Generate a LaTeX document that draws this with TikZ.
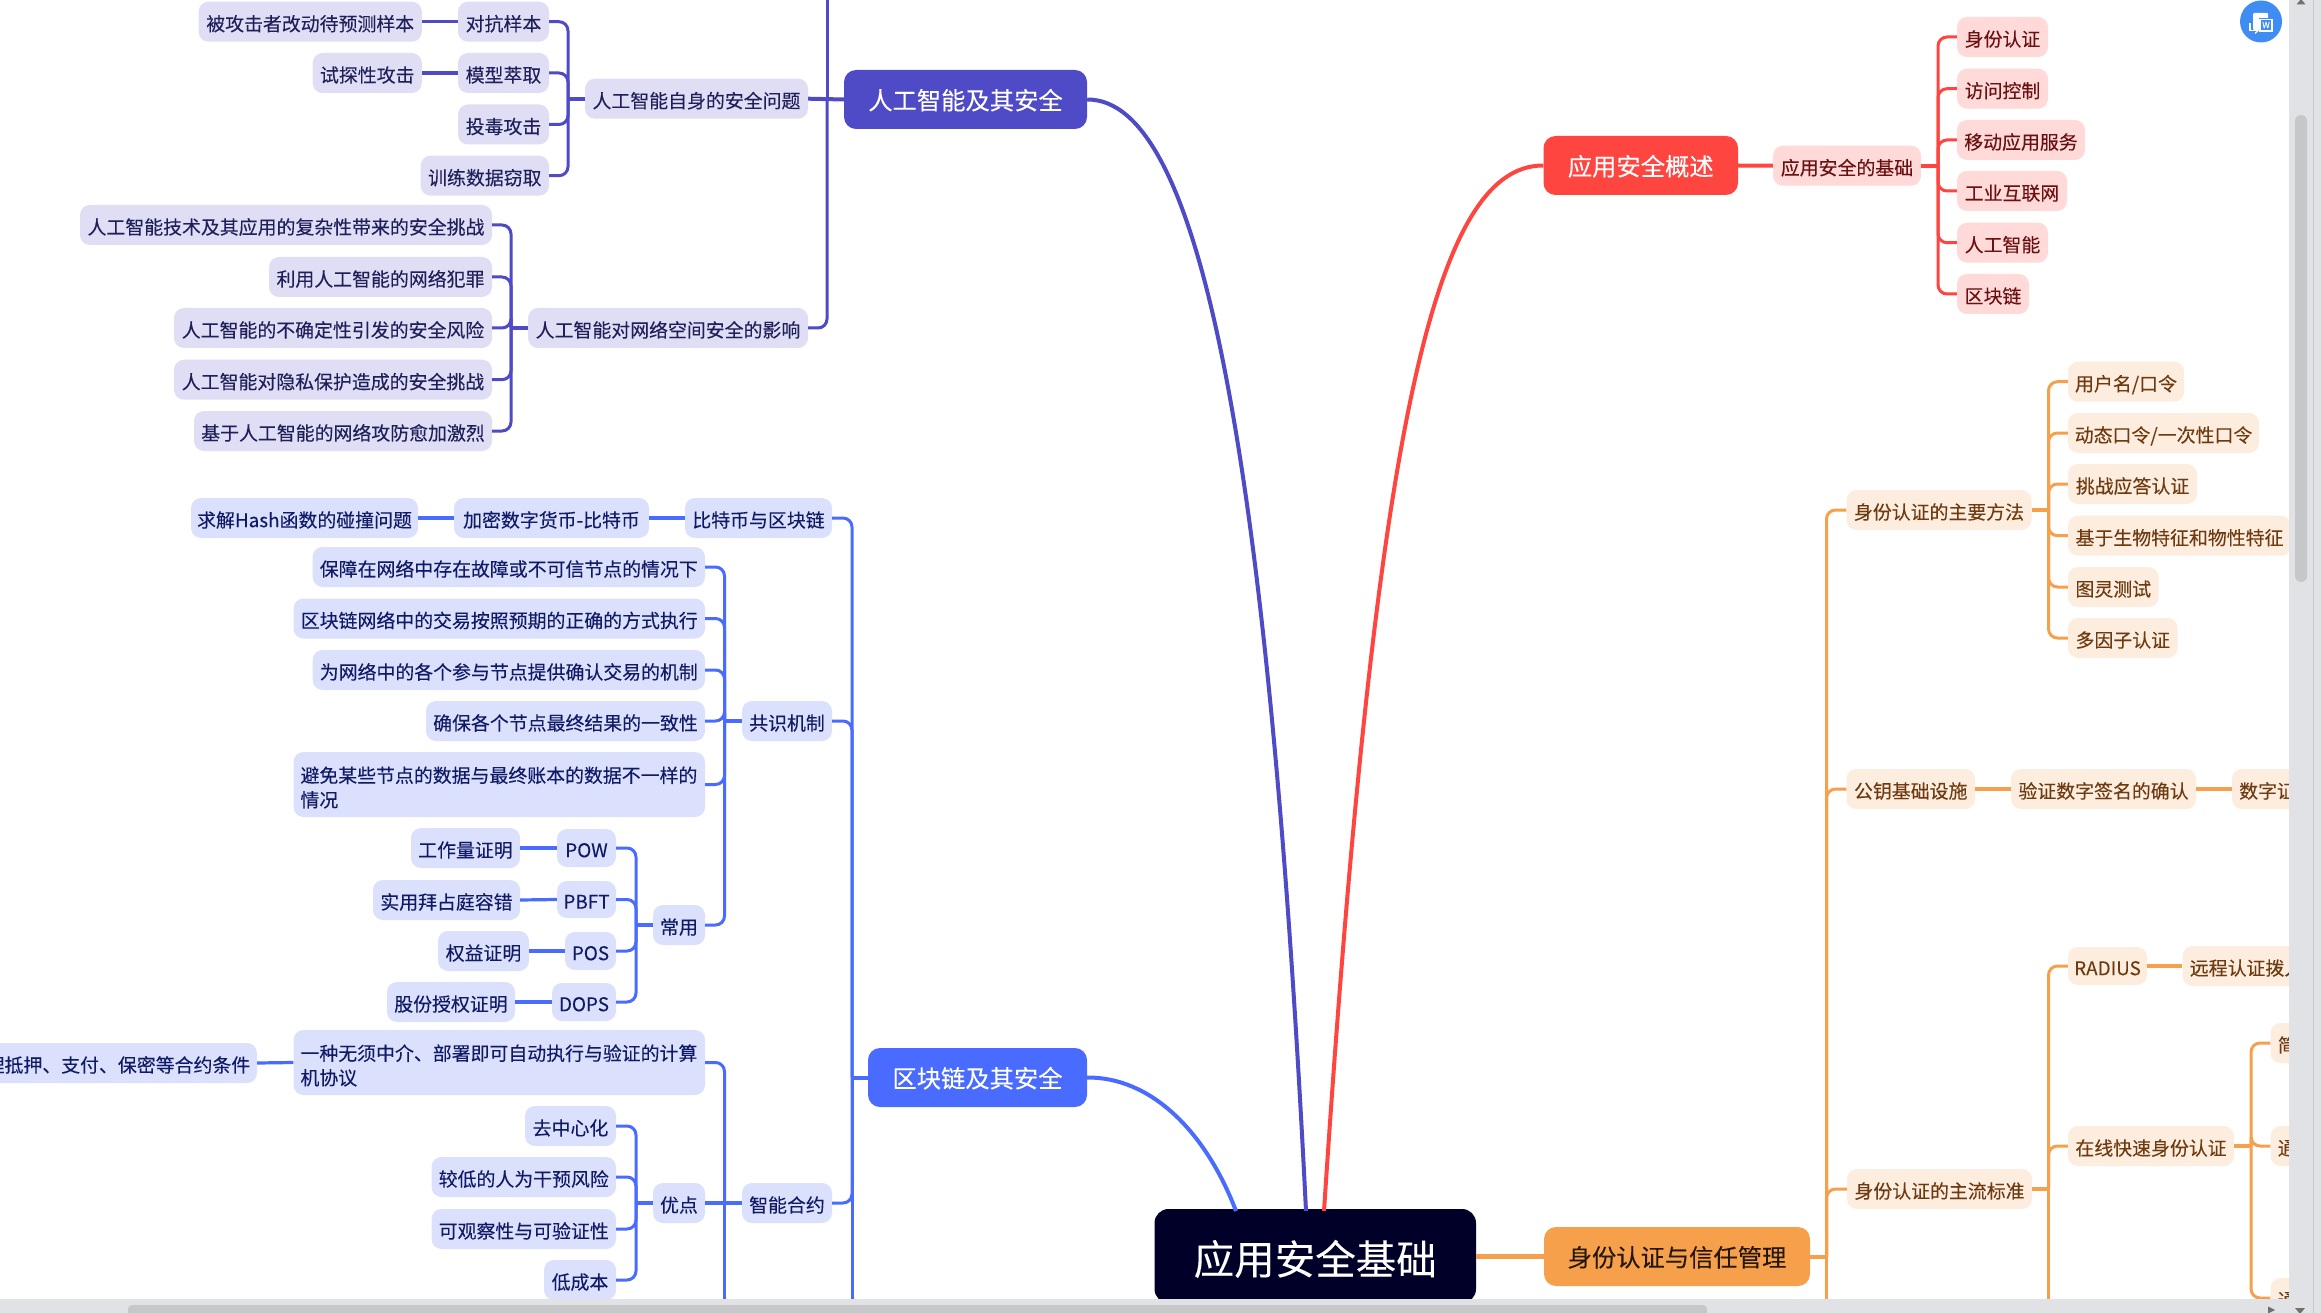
\documentclass[tikz,border=0pt]{standalone}
\usepackage{fontspec}
\setmainfont{Noto Sans CJK SC}[FakeBold=0.12]
\definecolor{cP}{HTML}{4F4BC7}
\definecolor{cB}{HTML}{4A6BFF}
\definecolor{cR}{HTML}{FF4540}
\definecolor{cO}{HTML}{F7A04C}
\definecolor{fP}{HTML}{DFDEF4}
\definecolor{fB}{HTML}{DBE1FD}
\definecolor{fR}{HTML}{FFDAD9}
\definecolor{fO}{HTML}{FDEDDF}
\definecolor{tP}{HTML}{1F1F5A}
\definecolor{tB}{HTML}{101A66}
\definecolor{tR}{HTML}{6B1010}
\definecolor{tO}{HTML}{6E3A10}
\definecolor{cRoot}{HTML}{000028}
\definecolor{sbBg}{HTML}{E1E2E6}
\definecolor{sbLine}{HTML}{C8C9CC}
\definecolor{sbThumb}{HTML}{C6C7C9}
\definecolor{sbArrow}{HTML}{707070}
\definecolor{icoBlue}{HTML}{3F8CF2}
\tikzset{
  base/.style={rectangle,rounded corners=10pt,inner sep=0pt,font=\fontsize{18.9}{24.5}\selectfont},
  tx/.style={text height=20pt,text depth=1.6pt},
  np/.style={base,tx,fill=fP,text=tP},
  nb/.style={base,tx,fill=fB,text=tB},
  nr/.style={base,tx,fill=fR,text=tR},
  no/.style={base,tx,fill=fO,text=tO},
  nb2/.style={base,fill=fB,text=tB,align=left},
  mainbox/.style={rectangle,rounded corners=12pt,inner sep=0pt,font=\fontsize{24.3}{28}\selectfont,text height=22.5pt,text depth=2.4pt},
  rootbox/.style={rectangle,rounded corners=14pt,inner sep=0pt,font=\fontsize{40.5}{46}\selectfont,text height=40pt,text depth=3.2pt,fill=cRoot,text=white},
  conn/.style={line width=3pt,rounded corners=9pt},
  stub/.style={line width=4pt},
  link/.style={line width=3.2pt},
  curve/.style={line width=4pt},
  rootlink/.style={line width=4.5pt},
}
\newcommand{\bx}[7]{\node[#6,minimum width={#4-#2},minimum height={#5-#3}] (#1) at ({(#2+#4)/2},{(#3+#5)/2}) {#7};}
\newcommand{\bxw}[7]{\node[#6,text width={#4-#2-14},minimum width={#4-#2},minimum height={#5-#3}] (#1) at ({(#2+#4)/2},{(#3+#5)/2}) {\rule{0pt}{22pt}#7};}
\begin{document}
\begin{tikzpicture}[x=1pt,y=-1pt]
\useasboundingbox (0,0) rectangle (2321,1313);
\clip (0,0) rectangle (2321,1313);
\fill[white] (0,0) rectangle (2321,1313);

% ---------- root and main topics
\bx{root}{1154.5}{1209}{1476}{1303}{rootbox}{应用安全基础}
\bx{mP}{844}{70}{1087}{129}{mainbox,fill=cP,text=white}{人工智能及其安全}
\bx{mB}{868}{1048}{1087}{1107}{mainbox,fill=cB,text=white}{区块链及其安全}
\bx{mR}{1543.5}{136}{1738}{195}{mainbox,fill=cR,text=white}{应用安全概述}
\bx{mO}{1544}{1227}{1810}{1286}{mainbox,fill=cO,text=black!85!cO}{身份认证与信任管理}

\coordinate (rtP) at (1306,1211);
\coordinate (rtB) at (1236,1211);
\coordinate (rtR) at (1324,1211);
\draw[curve,cP] (mP.east) .. controls (1200,99) and (1268,450) .. (rtP);
\draw[curve,cB] (mB.east) .. controls (1150,1077) and (1205,1130) .. (rtB);
\draw[curve,cR] (mR.west) .. controls (1430,165) and (1374,450) .. (rtR);
\draw[rootlink,cO] (root.east |- mO.west) -- (mO.west);

% ---------- purple branch
\bx{pA}{585}{78.7}{808}{118.7}{np}{人工智能自身的安全问题}
\bx{pA1}{458}{1.7}{549}{41.7}{np}{对抗样本}
\bx{pA2}{458}{53}{549}{93}{np}{模型萃取}
\bx{pA3}{458}{104.5}{549}{144.5}{np}{投毒攻击}
\bx{pA4}{420.7}{155.7}{549}{195.7}{np}{训练数据窃取}
\bx{pA1x}{198.6}{1.7}{421.8}{41.7}{np}{被攻击者改动待预测样本}
\bx{pA2x}{312.7}{53}{421.8}{93}{np}{试探性攻击}
\bx{pN}{528}{308}{808}{348}{np}{人工智能对网络空间安全的影响}
\bx{pN1}{80}{205}{492}{245}{np}{人工智能技术及其应用的复杂性带来的安全挑战}
\bx{pN2}{269}{257}{492}{297}{np}{利用人工智能的网络犯罪}
\bx{pN3}{174}{308}{492}{348}{np}{人工智能的不确定性引发的安全风险}
\bx{pN4}{174}{359.7}{492}{399.7}{np}{人工智能对隐私保护造成的安全挑战}
\bx{pN5}{194}{411}{492}{451}{np}{基于人工智能的网络攻防愈加激烈}

\coordinate (sPm) at (827,99.5);
\coordinate (sPtop) at (827,-20);
\coordinate (sPa) at (568,98.7);
\coordinate (sPn) at (511,328);
\draw[conn,cP] (sPtop) -- (sPm);
\draw[conn,cP] (pN.east) -| (sPm);
\draw[stub,cP] (pA.east) -- (mP.west);
\foreach \c in {pA1,pA2,pA3,pA4} \draw[conn,cP] (\c.east) -| (sPa);
\draw[stub,cP] (sPa) -- (pA.west);
\foreach \c in {pN1,pN2,pN3,pN4,pN5} \draw[conn,cP] (\c.east) -| (sPn);
\draw[stub,cP] (sPn) -- (pN.west);
\draw[link,cP] (pA1x.east) -- (pA1.west);
\draw[link,cP] (pA2x.east) -- (pA2.west);

% ---------- blue branch
\bx{bT}{685}{498}{832}{538}{nb}{比特币与区块链}
\bx{bT1}{454}{498}{649}{538}{nb}{加密数字货币-比特币}
\bx{bT2}{191}{498}{418}{538}{nb}{求解Hash函数的碰撞问题}
\bx{bC}{742}{701}{832}{741}{nb}{共识机制}
\bx{bC1}{312.6}{547}{705}{587}{nb}{保障在网络中存在故障或不可信节点的情况下}
\bx{bC2}{293.5}{598.5}{705}{638.5}{nb}{区块链网络中的交易按照预期的正确的方式执行}
\bx{bC3}{312.6}{650}{705}{690}{nb}{为网络中的各个参与节点提供确认交易的机制}
\bx{bC4}{426}{701}{705}{741}{nb}{确保各个节点最终结果的一致性}
\bxw{bC5}{293.5}{752}{705}{817}{nb2}{避免某些节点的数据与最终账本的数据不一样的\\情况}
\bx{bU}{653}{905}{705}{945}{nb}{常用}
\bx{bU1}{557}{829}{616}{867}{nb}{POW}
\bx{bU2}{557}{881}{616}{918}{nb}{PBFT}
\bx{bU3}{565}{932}{616}{970}{nb}{POS}
\bx{bU4}{552}{983}{616}{1021}{nb}{DOPS}
\bx{bU1x}{411}{828}{520}{868}{nb}{工作量证明}
\bx{bU2x}{373}{880}{520}{920}{nb}{实用拜占庭容错}
\bx{bU3x}{438}{931}{529}{971}{nb}{权益证明}
\bx{bU4x}{387}{982}{515}{1022}{nb}{股份授权证明}
\bx{bS}{742}{1183}{832}{1223}{nb}{智能合约}
\bxw{bS1}{293.5}{1030}{705}{1095}{nb2}{一种无须中介、部署即可自动执行与验证的计算\\机协议}
\bx{bS1x}{-40}{1043}{257}{1083}{nb}{管理抵押、支付、保密等合约条件}
\bx{bV}{653}{1183}{705}{1223}{nb}{优点}
\bx{bV1}{525}{1106}{616}{1146}{nb}{去中心化}
\bx{bV2}{431.5}{1157}{616}{1197}{nb}{较低的人为干预风险}
\bx{bV3}{431.5}{1209}{616}{1249}{nb}{可观察性与可验证性}
\bx{bV4}{544}{1260}{616}{1300}{nb}{低成本}

\coordinate (sBm) at (852,1077.5);
\coordinate (sBbot) at (852,1330);
\coordinate (sBc) at (724.5,721);
\coordinate (sBu) at (636,925);
\coordinate (sBs) at (724.5,1203);
\coordinate (sBsbot) at (724.5,1330);
\coordinate (sBv) at (636,1203);
\draw[conn,cB] (sBbot) -- (sBm);
\foreach \c in {bT,bC,bS} \draw[conn,cB] (\c.east) -| (sBm);
\draw[stub,cB] (sBm) -- (mB.west);
\foreach \c in {bC1,bC2,bC3,bC4,bC5,bU} \draw[conn,cB] (\c.east) -| (sBc);
\draw[stub,cB] (sBc) -- (bC.west);
\foreach \c in {bU1,bU2,bU3,bU4} \draw[conn,cB] (\c.east) -| (sBu);
\draw[stub,cB] (sBu) -- (bU.west);
\draw[conn,cB] (sBsbot) -- (sBs);
\draw[conn,cB] (bS1.east) -| (sBs);
\draw[stub,cB] (bV.east) -- (bS.west);
\foreach \c in {bV1,bV2,bV3,bV4} \draw[conn,cB] (\c.east) -| (sBv);
\draw[stub,cB] (sBv) -- (bV.west);
\draw[link,cB] (bT1.east) -- (bT.west);
\draw[link,cB] (bT2.east) -- (bT1.west);
\draw[link,cB] (bU1x.east) -- (bU1.west);
\draw[link,cB] (bU2x.east) -- (bU2.west);
\draw[link,cB] (bU3x.east) -- (bU3.west);
\draw[link,cB] (bU4x.east) -- (bU4.west);
\draw[link,cB] (bS1x.east) -- (bS1.west);

% ---------- red branch
\bx{rA}{1773}{145.7}{1921}{185.7}{nr}{应用安全的基础}
\bx{rA1}{1957}{17}{2048}{57}{nr}{身份认证}
\bx{rA2}{1957}{68.7}{2048}{108.7}{nr}{访问控制}
\bx{rA3}{1957}{120}{2085}{160}{nr}{移动应用服务}
\bx{rA4}{1957}{171}{2067}{211}{nr}{工业互联网}
\bx{rA5}{1957}{222.7}{2048}{262.7}{nr}{人工智能}
\bx{rA6}{1957}{274}{2029}{314}{nr}{区块链}
\coordinate (sR) at (1938,165.7);
\foreach \c in {rA1,rA2,rA3,rA4,rA5,rA6} \draw[conn,cR] (\c.west) -| (sR);
\draw[stub,cR] (rA.east) -- (sR);
\draw[stub,cR] (mR.east) -- (rA.west);

% ---------- orange branch
\bx{oA}{1846.5}{490}{2031.5}{530}{no}{身份认证的主要方法}
\bx{oA1}{2068}{361.7}{2184}{401.7}{no}{用户名/口令}
\bx{oA2}{2068}{413}{2259}{453}{no}{动态口令/一次性口令}
\bx{oA3}{2068}{464}{2197}{504}{no}{挑战应答认证}
\bx{oA4}{2068}{515.7}{2291}{555.7}{no}{基于生物特征和物性特征}
\bx{oA5}{2068}{567}{2158.6}{607}{no}{图灵测试}
\bx{oA6}{2068}{618}{2177.6}{658}{no}{多因子认证}
\bx{oB}{1846.5}{769}{1975}{809}{no}{公钥基础设施}
\bx{oB1}{2011}{769}{2196}{809}{no}{验证数字签名的确认}
\bx{oB2}{2232}{769}{2322}{809}{no}{数字证书}
\bx{oC}{1847}{1169}{2032}{1209}{no}{身份认证的主流标准}
\bx{oC1}{2068}{947}{2147}{985}{no}{RADIUS}
\bx{oC1x}{2182.6}{946}{2386}{986}{no}{远程认证拨入用户服务}
\bx{oC2}{2068}{1126}{2234}{1166}{no}{在线快速身份认证}
\bx{oD1}{2270.6}{1023}{2304}{1063}{no}{简}
\bx{oD2}{2270.6}{1126}{2304}{1166}{no}{通}
\bx{oD3}{2270.6}{1278}{2304}{1318}{no}{通}

\coordinate (sOm) at (1826.5,1256.5);
\coordinate (sObot) at (1826.5,1330);
\coordinate (sOa) at (2048.5,510);
\coordinate (sOc) at (2048.5,1189);
\coordinate (sObotc) at (2048.5,1330);
\coordinate (sOd) at (2251,1146);
\draw[conn,cO] (sObot) -- (sOm);
\foreach \c in {oA,oB,oC} \draw[conn,cO] (\c.west) -| (sOm);
\draw[stub,cO] (mO.east) -- (sOm);
\foreach \c in {oA1,oA2,oA3,oA4,oA5,oA6} \draw[conn,cO] (\c.west) -| (sOa);
\draw[stub,cO] (oA.east) -- (sOa);
\draw[conn,cO] (sObotc) -- (sOc);
\foreach \c in {oC1,oC2} \draw[conn,cO] (\c.west) -| (sOc);
\draw[stub,cO] (oC.east) -- (sOc);
\foreach \c in {oD1,oD2,oD3} \draw[conn,cO] (\c.west) -| (sOd);
\draw[stub,cO] (oC2.east) -- (sOd);
\draw[link,cO] (oB.east) -- (oB1.west);
\draw[link,cO] (oB1.east) -- (oB2.west);
\draw[link,cO] (oC1.east) -- (oC1x.west);

% ---------- window scrollbars and floating icon
\fill[sbBg] (0,1299) rectangle (2321,1313);
\fill[sbBg] (2289,0) rectangle (2321,1313);
\draw[sbLine,line width=1pt] (2313,0) -- (2313,1313);
\fill[sbThumb,rounded corners=4pt] (128,1305) rectangle (1707,1317);
\fill[sbThumb,rounded corners=6pt] (2295,115) rectangle (2307,582);
\fill[sbArrow] (2296.5,4.5) -- (2305.5,4.5) -- (2301,-1) -- cycle;
\fill[sbArrow] (2295,1308) -- (2305,1308) -- (2300,1314) -- cycle;
\fill[sbArrow] (2268,1306.5) -- (2275,1310) -- (2268,1313.5) -- cycle;

\fill[icoBlue] (2261,21.5) circle (21);
\fill[white,rounded corners=1pt] (2253,13) rectangle (2268,30);
\fill[icoBlue] (2258.5,18) rectangle (2273.5,32);
\draw[white,line width=1.2pt] (2260,19.5) rectangle (2272,31);
\node[inner sep=0pt,text=white,font=\fontsize{8.5}{9}\selectfont] (icoW) at (2266,25) {W};
\draw[white,line width=1.3pt] (2250,23.5) -- (2250,30.5) -- (2257,30.5);
\draw[white,line width=1.3pt] (2255,27.5) -- (2258,30.5) -- (2255,33.5);
\end{tikzpicture}
\end{document}
